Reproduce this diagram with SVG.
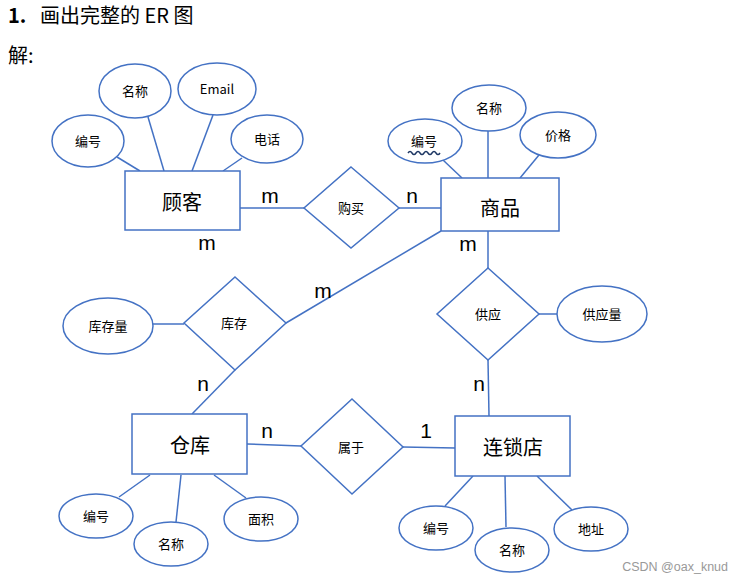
<svg xmlns="http://www.w3.org/2000/svg" width="743" height="582" viewBox="0 0 743 582">
<style>
.s{fill:none;stroke:#4472C4;stroke-width:1.5}
.e{fill:#fff;stroke:#4472C4;stroke-width:1.5}
.t{font-family:"Noto Sans CJK SC","Liberation Sans",sans-serif;font-size:13px;text-anchor:middle;fill:#000}
.b{font-family:"Noto Sans CJK SC","Liberation Sans",sans-serif;font-size:20px;text-anchor:middle;fill:#000}
.c{font-family:"Liberation Sans","Noto Sans",sans-serif;font-size:21px;text-anchor:middle;fill:#000}
.h{font-family:"Noto Sans CJK SC","Liberation Sans",sans-serif;font-size:20px;fill:#000}
</style>
<rect width="743" height="582" fill="#fff"/>
<text x="8" y="23" class="h" font-weight="bold">1.</text>
<text x="40" y="23" class="h">画出完整的 ER 图</text>
<text x="8" y="63" class="h">解:</text>
<g id="connectors" class="s">
<line x1="117" y1="157" x2="140" y2="171"/>
<line x1="148" y1="117" x2="164" y2="171"/>
<line x1="213" y1="115" x2="192" y2="171"/>
<line x1="242" y1="158" x2="223" y2="171"/>
<line x1="240" y1="208" x2="304" y2="208"/>
<line x1="399" y1="208" x2="441" y2="208"/>
<line x1="443" y1="160" x2="462" y2="178"/>
<line x1="488" y1="131" x2="488" y2="178"/>
<line x1="539" y1="155" x2="520" y2="178"/>
<line x1="441" y1="231" x2="286" y2="323"/>
<line x1="488" y1="231" x2="488" y2="268"/>
<line x1="153" y1="324" x2="184" y2="324"/>
<line x1="235" y1="370" x2="192" y2="414"/>
<line x1="539" y1="314" x2="557" y2="314"/>
<line x1="488" y1="360" x2="489" y2="416"/>
<line x1="247" y1="444" x2="301" y2="446"/>
<line x1="403" y1="447" x2="455" y2="448"/>
<line x1="119" y1="497" x2="150" y2="475"/>
<line x1="176" y1="522" x2="181" y2="475"/>
<line x1="246" y1="498" x2="214" y2="475"/>
<line x1="445" y1="506" x2="473" y2="476"/>
<line x1="506" y1="527" x2="505" y2="476"/>
<line x1="572" y1="510" x2="537" y2="476"/>
</g>
<g id="customer"><rect x="125" y="171" width="115" height="59" class="e"/><text x="182" y="210" class="b">顾客</text></g>
<g id="c-id"><ellipse cx="88" cy="141" rx="36" ry="26" class="e"/><text x="88" y="146" class="t">编号</text></g>
<g id="c-name"><ellipse cx="135" cy="91" rx="36" ry="27" class="e"/><text x="135" y="96" class="t">名称</text></g>
<g id="c-email"><ellipse cx="217" cy="89" rx="39" ry="26" class="e"/><text x="217" y="94" class="t">Email</text></g>
<g id="c-phone"><ellipse cx="267" cy="139" rx="36" ry="24" class="e"/><text x="267" y="144" class="t">电话</text></g>
<g id="buy"><polygon points="351,167 399,208 351,248 304,208" class="e"/><text x="351" y="213" class="t">购买</text></g>
<g id="goods"><rect x="441" y="178" width="118" height="53" class="e"/><text x="500" y="216" class="b">商品</text></g>
<g id="g-id"><ellipse cx="425" cy="141" rx="37" ry="22" class="e"/><text x="424" y="146" class="t">编号</text><path d="M408,153 q2,-3 4,0 t4,0 t4,0 t4,0 t4,0 t4,0 t4,0 t4,0" fill="none" stroke="#1F3864" stroke-width="1.5"/></g>
<g id="g-name"><ellipse cx="489" cy="108" rx="37" ry="23" class="e"/><text x="489" y="113" class="t">名称</text></g>
<g id="g-price"><ellipse cx="558" cy="135" rx="38" ry="23" class="e"/><text x="558" y="140" class="t">价格</text></g>
<g id="stock"><polygon points="235,277 286,323 235,370 184,323" class="e"/><text x="234" y="328" class="t">库存</text></g>
<g id="stock-qty"><ellipse cx="108" cy="326" rx="45" ry="28" class="e"/><text x="108" y="331" class="t">库存量</text></g>
<g id="supply"><polygon points="488,268 539,314 488,360 437,314" class="e"/><text x="488" y="319" class="t">供应</text></g>
<g id="supply-qty"><ellipse cx="602" cy="314" rx="45" ry="28" class="e"/><text x="602" y="319" class="t">供应量</text></g>
<g id="warehouse"><rect x="132" y="414" width="115" height="60" class="e"/><text x="190" y="453" class="b">仓库</text></g>
<g id="w-id"><ellipse cx="96" cy="516" rx="37" ry="22" class="e"/><text x="96" y="521" class="t">编号</text></g>
<g id="w-name"><ellipse cx="171" cy="544" rx="37" ry="22" class="e"/><text x="171" y="549" class="t">名称</text></g>
<g id="w-area"><ellipse cx="261" cy="519" rx="37" ry="22" class="e"/><text x="261" y="524" class="t">面积</text></g>
<g id="belong"><polygon points="352,399 403,447 352,494 301,446" class="e"/><text x="351" y="452" class="t">属于</text></g>
<g id="store"><rect x="455" y="416" width="115" height="60" class="e"/><text x="513" y="455" class="b">连锁店</text></g>
<g id="s-id"><ellipse cx="436" cy="528" rx="37" ry="22" class="e"/><text x="436" y="533" class="t">编号</text></g>
<g id="s-name"><ellipse cx="512" cy="550" rx="37" ry="22" class="e"/><text x="512" y="555" class="t">名称</text></g>
<g id="s-addr"><ellipse cx="591" cy="529" rx="37" ry="22" class="e"/><text x="591" y="534" class="t">地址</text></g>
<g id="labels">
<text x="270" y="203" class="c">m</text>
<text x="207" y="250" class="c">m</text>
<text x="412" y="203" class="c">n</text>
<text x="468" y="251" class="c">m</text>
<text x="323" y="298" class="c">m</text>
<text x="203" y="391" class="c">n</text>
<text x="479" y="391" class="c">n</text>
<text x="267" y="438" class="c">n</text>
<text x="426" y="438" class="c">1</text>
</g>
<text x="728" y="571" font-family="Liberation Sans,sans-serif" font-size="12.5" fill="#999" text-anchor="end">CSDN @oax_knud</text>
</svg>
